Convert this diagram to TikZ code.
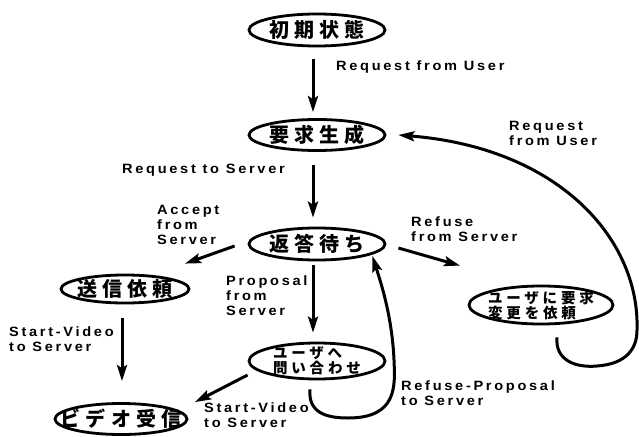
\documentclass[tikz,border=0pt]{standalone}
\usepackage{fontspec}
\setmainfont{Liberation Sans}
\newfontfamily\lblfont[LetterSpace=20,FakeStretch=1.08]{Liberation Sans}
\newfontfamily\jpfont[LetterSpace=26]{Noto Sans CJK JP}
\usetikzlibrary{shapes.geometric,arrows.meta,calc}

\begin{document}
\begin{tikzpicture}[x=1pt,y=-1pt,
  state/.style={ellipse, draw, line width=2.8pt, inner sep=0pt},
  jp/.style={font=\jpfont\bfseries\fontsize{20}{22}\selectfont},
  jpsmall/.style={font=\jpfont\bfseries\fontsize{14.5}{15}\selectfont, align=left},
  lbl/.style={font=\lblfont\bfseries\fontsize{13.5}{15}\selectfont, align=left, anchor=north west, inner sep=0pt},
  arr/.style={line width=3pt, -{Stealth[length=16pt,width=10pt,inset=3pt]}},
]
\useasboundingbox[fill=white] (0,0) rectangle (639,436);

% states
\node[state, minimum width=136pt, minimum height=32pt, label={[jp]center:初期状態}] (s0) at (317,30) {};
\node[state, minimum width=136pt, minimum height=31pt, label={[jp]center:要求生成}] (s1) at (317,135) {};
\node[state, minimum width=136pt, minimum height=32pt, label={[jp]center:返答待ち}] (s2) at (317,244) {};
\node[state, minimum width=128pt, minimum height=28pt, label={[jp]center:送信依頼}] (s3) at (125,289) {};
\node[state, minimum width=144pt, minimum height=38pt, label={[jpsmall]center:{ユーザに要求\\変更を依頼}}] (s4) at (541,305) {};
\node[state, minimum width=136pt, minimum height=36pt, label={[jpsmall]center:{ユーザへ\\問い合わせ}}] (s5) at (317,361) {};
\node[state, minimum width=132pt, minimum height=31pt, label={[jp]center:ビデオ受信}] (s6) at (121,419) {};

% transitions
\draw[arr] ($(s0.south)+(-4,12)$) -- ($(s1.north)+(-4,-6)$);
\draw[arr] ($(s1.south)+(-4,13)$) -- ($(s2.north)+(-4,-9)$);
\draw[arr] ($(s2.south)+(-4,4)$) -- ($(s5.north)+(-4,-9)$);
\draw[arr] ($(s3.south)+(-3,14)$) -- ($(s6.north)+(1,-21)$);
\draw[arr] ($(s2.west)+(-13,2)$) -- ($(s3.north)+(60,-10)$);
\draw[arr] ($(s2.east)+(12,4)$) -- ($(s4.north)+(-81,-19)$);
\draw[arr] ($(s5.west)+(0,14)$) -- ($(s6.north)+(74,0)$);
\draw[arr] ($(s5.south)+(-7,9)$) .. controls (308,412) and (325,418) .. (348,418)
  .. controls (398,418) and (395,385) .. (394,360)
  .. controls (392,315) and (380,280) .. ($(s2.east)+(-14,12)$);
\draw[arr] ($(s4.south)+(16,12)$) .. controls (555,360) and (575,368) .. (597,366)
  .. controls (625,364) and (637,350) .. (637,330)
  .. controls (640,240) and (560,148) .. ($(s1.east)+(12,0)$);

% transition labels
\node[lbl] (l1) at (336,61) {Request from User};
\node[lbl] (l2) at (122,164) {Request to Server};
\node[lbl] (l3) at (157,205) {Accept\\from\\Server};
\node[lbl] (l4) at (411,217) {Refuse\\from Server};
\node[lbl] (l5) at (226,276) {Proposal\\from\\Server};
\node[lbl] (l6) at (9,327) {Start-Video\\to Server};
\node[lbl] (l7) at (204,403) {Start-Video\\to Server};
\node[lbl] (l8) at (401,381) {Refuse-Proposal\\to Server};
\node[lbl] (l9) at (509,121) {Request\\from User};
\end{tikzpicture}
\end{document}
